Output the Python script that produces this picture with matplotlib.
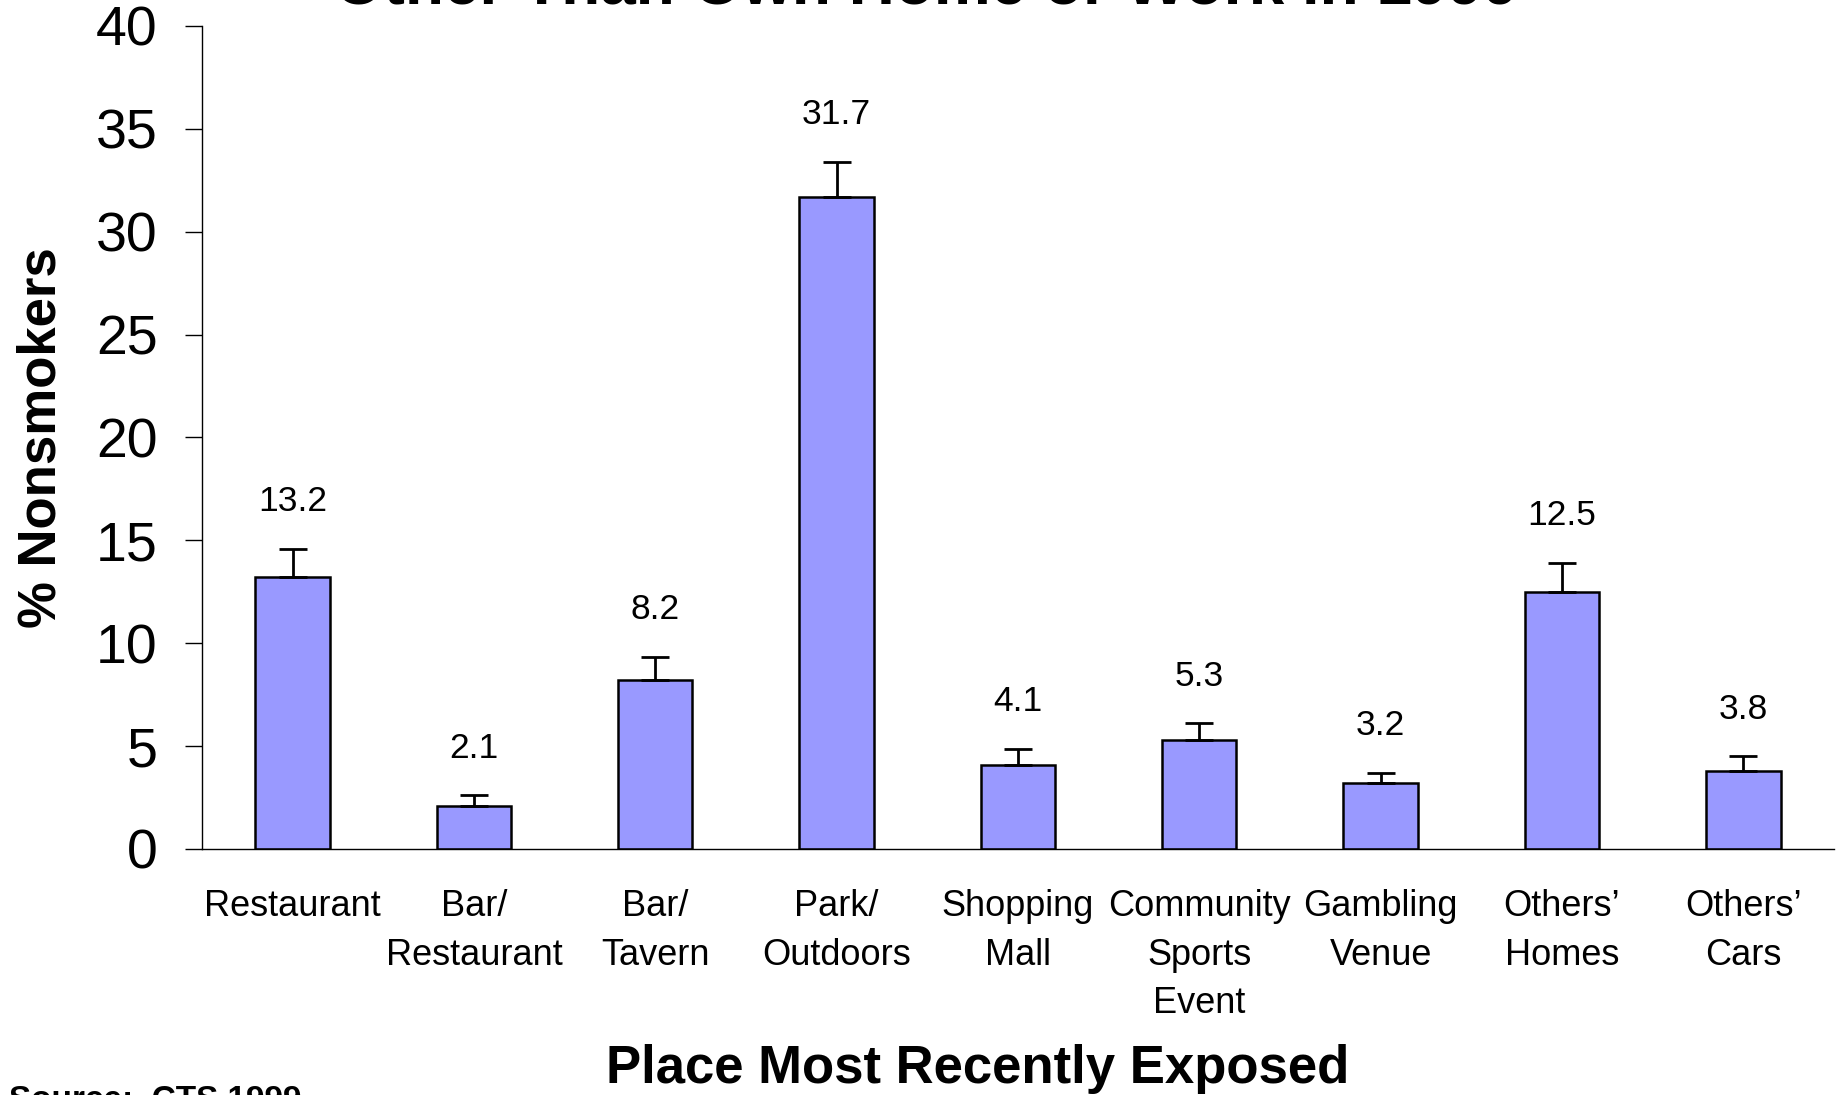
import numpy as np
import matplotlib
matplotlib.use('Agg')
import matplotlib.pyplot as plt

plt.rcParams['font.family'] = ['Liberation Sans', 'DejaVu Sans']

# Data
places = ['Restaurant', 'Bar/\nRestaurant', 'Bar/\nTavern', 'Park/\nOutdoors',
          'Shopping\nMall', 'Community\nSports\nEvent', 'Gambling\nVenue',
          'Others\u2019\nHomes', 'Others\u2019\nCars']
pct = [13.2, 2.1, 8.2, 31.7, 4.1, 5.3, 3.2, 12.5, 3.8]
err = [1.4, 0.5, 1.15, 1.7, 0.75, 0.8, 0.5, 1.4, 0.7]

fig = plt.figure(figsize=(18.41, 10.95), dpi=100)
ax = fig.add_axes([0.1097, 0.2247, 0.8865, 0.7516])

x = np.arange(len(pct))
ax.bar(x, pct, width=0.41, color='#9999FF', edgecolor='black', linewidth=1.8, zorder=2)
ax.errorbar(x, pct, yerr=[np.zeros(len(err)), err], fmt='none', ecolor='black',
            elinewidth=2, capsize=10, capthick=2, zorder=3)

# Value labels above error bars
for xi, v, e in zip(x, pct, err):
    ax.text(xi, v + e + 1.5, f'{v:.1f}', ha='center', va='bottom', fontsize=25.5)

ax.set_xlim(-0.5, len(pct) - 0.5)
ax.set_ylim(0, 40)
ax.set_yticks(range(0, 41, 5))
ax.tick_params(axis='y', labelsize=40, length=12, width=1, direction='out', pad=20)
ax.tick_params(axis='x', length=0, pad=29)
ax.set_xticks(x)
ax.set_xticklabels(places, fontsize=26, linespacing=1.5, va='top')

for s in ['top', 'right']:
    ax.spines[s].set_visible(False)
ax.spines['left'].set_linewidth(1)
ax.spines['bottom'].set_linewidth(1)

ax.set_ylabel('% Nonsmokers', fontsize=38, fontweight='bold')
ax.yaxis.set_label_coords(-0.083, 0.5)

fig.text(0.531, 0.024, 'Place Most Recently Exposed', ha='center', va='center',
         fontsize=38, fontweight='bold')

# Title and source are partly cut off by the figure edge
fig.text(0.503, 0.997, 'Other Than Own Home or Work in 1999', ha='center',
         va='baseline', fontsize=46, fontweight='bold')
fig.text(0.005, 0.009, 'Source:  CTS 1999', ha='left', va='top',
         fontsize=24, fontweight='bold')

fig.savefig('out.png', dpi=100)
